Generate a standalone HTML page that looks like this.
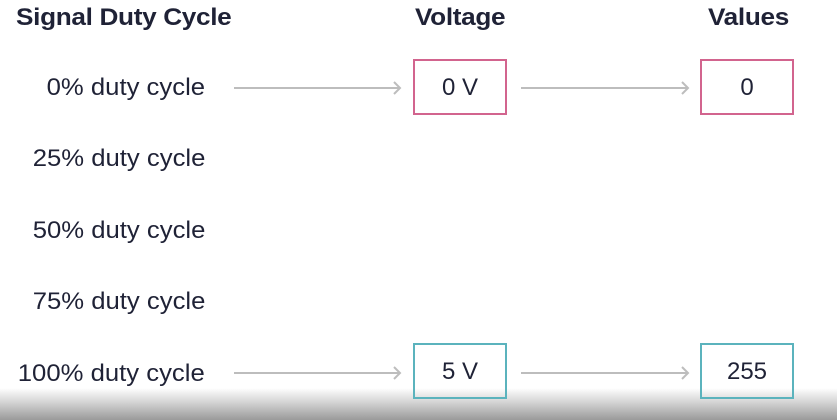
<!DOCTYPE html>
<html><head><style>
html,body{margin:0;padding:0}
body{width:837px;height:420px;position:relative;overflow:hidden;background:#fff;font-family:"Liberation Sans",sans-serif;color:#1f2236}
.h{position:absolute;top:4px;font-size:24px;font-weight:bold;letter-spacing:-0.3px;transform:scaleX(1.09);transform-origin:left}
.l{position:absolute;right:632px;font-size:24px;line-height:28px;transform:scaleX(1.07);transform-origin:right;white-space:nowrap}
.b{position:absolute;width:90px;height:52px;border:2px solid;text-align:center;line-height:54px;font-size:24px}
.p{border-color:#d2648e}.t{border-color:#5bb3bd}
.g{position:absolute;left:0;top:388px;width:837px;height:32px;background:linear-gradient(#fff,#d8d8d8 40%,#9a9a9a)}
</style></head><body>
<div class="h" style="left:16px">Signal Duty Cycle</div>
<div class="h" style="left:415px">Voltage</div>
<div class="h" style="left:708px">Values</div>
<div class="l" style="top:74px">0% duty cycle</div>
<div class="l" style="top:145px">25% duty cycle</div>
<div class="l" style="top:217px">50% duty cycle</div>
<div class="l" style="top:288px">75% duty cycle</div>
<div class="l" style="top:360px">100% duty cycle</div>
<div class="b p" style="left:413px;top:59px">0 V</div>
<div class="b p" style="left:700px;top:59px">0</div>
<div class="g"></div>
<div class="b t" style="left:413px;top:343px">5 V</div>
<div class="b t" style="left:700px;top:343px">255</div>
<svg width="837" height="420" style="position:absolute;left:0;top:0" fill="none" stroke="#bdbdbd" stroke-width="2">
<path d="M234 88H400M394 82L400 88L394 94"/>
<path d="M521 88H688M682 82L688 88L682 94"/>
<path d="M234 373H400M394 367L400 373L394 379"/>
<path d="M521 373H688M682 367L688 373L682 379"/>
</svg>
</body></html>
